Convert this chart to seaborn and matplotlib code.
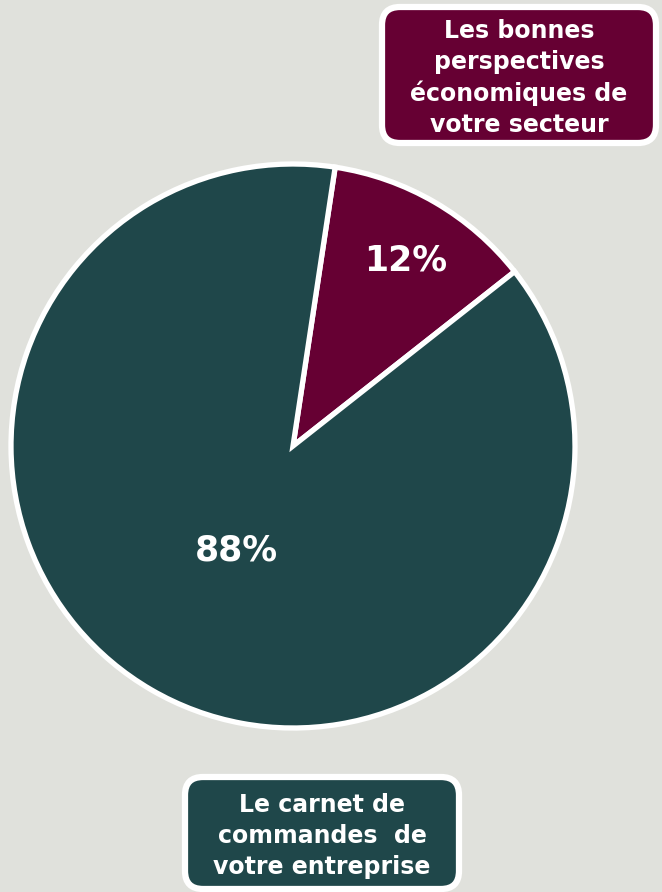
import matplotlib
matplotlib.use('Agg')
import matplotlib.pyplot as plt
import seaborn as sns
import numpy as np
from matplotlib.patches import FancyBboxPatch

labels = ['Les bonnes\nperspectives\néconomiques de\nvotre secteur',
          'Le carnet de\ncommandes  de\nvotre entreprise']
values = [12, 88]
colors = ['#660033', '#1f474a']

bg = '#e0e1dc'
sns.set_style('white', {'axes.facecolor': bg, 'figure.facecolor': bg})
plt.rcParams['font.family'] = ['DejaVu Sans']

fig = plt.figure(figsize=(6.62, 8.92), dpi=100)
ax = fig.add_axes([0, 0, 1, 1])

# pie in pixel coordinates
cx, cy, r = 293, 446, 282
wedges, _ = ax.pie(values, colors=colors, startangle=81.4, counterclock=False,
                   center=(cx, cy), radius=r,
                   wedgeprops=dict(edgecolor='white', linewidth=3.8))
ax.set_xlim(0, 662)
ax.set_ylim(0, 892)
ax.set_aspect('equal')
ax.axis('off')

dists = [0.77, 0.42]
for w, v, d in zip(wedges, values, dists):
    ang = np.deg2rad((w.theta1 + w.theta2) / 2)
    ax.text(cx + d * r * np.cos(ang) + 3, cy + d * r * np.sin(ang) - 2, f'{v}%',
            color='white', fontsize=25, fontweight='bold', ha='center', va='center')

# label boxes
boxes = [(382, 892 - 143, 274, 136), (185, 892 - 889, 274, 112)]
for (x0, y0, bw, bh), lab, c in zip(boxes, labels, colors):
    ax.add_patch(FancyBboxPatch((x0, y0), bw, bh, boxstyle='round,pad=0,rounding_size=18',
                                facecolor=c, edgecolor='white', linewidth=4.5, clip_on=False))
    ax.text(x0 + bw / 2, y0 + bh / 2 - 3, lab, color='white', fontsize=17, fontweight='bold',
            ha='center', va='center', linespacing=1.36)

fig.savefig('out.png', dpi=100, facecolor=bg)
